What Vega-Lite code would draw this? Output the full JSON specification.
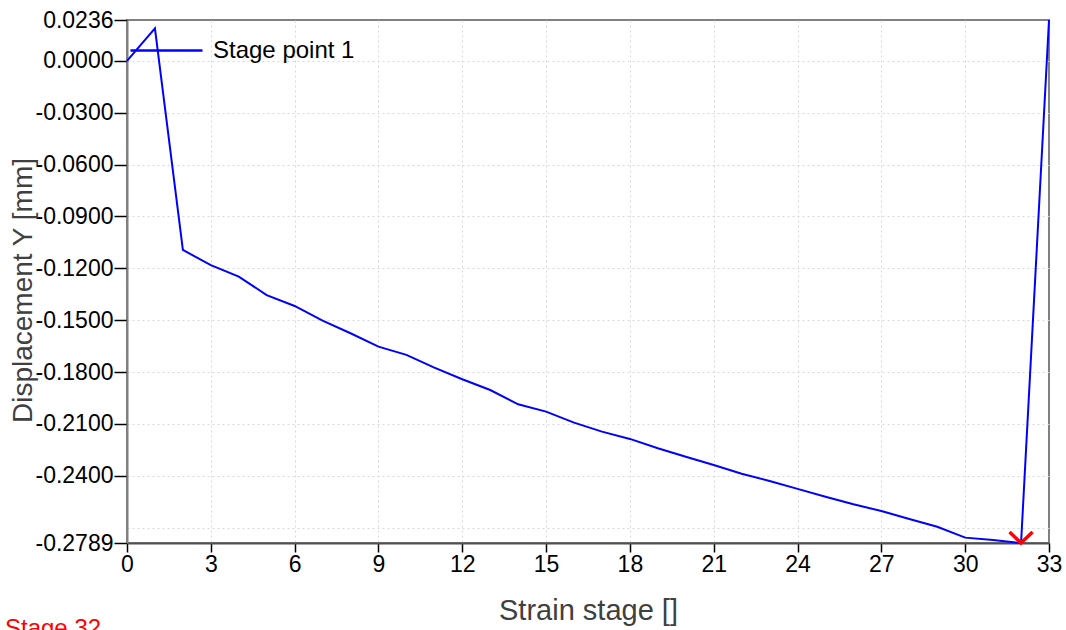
{
  "$schema": "https://vega.github.io/schema/vega-lite/v6.json",
  "width": 922,
  "height": 523,
  "autosize": "none",
  "padding": {"left": 127, "top": 20, "right": 17, "bottom": 87},
  "background": "white",
  "config": {
    "font": "Liberation Sans",
    "view": {"stroke": "#808080", "strokeWidth": 2}
  },
  "title": {
    "text": "Stage 32",
    "orient": "bottom",
    "anchor": "start",
    "frame": "group",
    "color": "#ff0000",
    "fontSize": 24,
    "fontWeight": "normal",
    "font": "Liberation Sans",
    "dx": -122,
    "offset": -8
  },
  "datasets": {
    "curve": [
      {"stage": 0, "dy": 0.0, "series": "Stage point 1"},
      {"stage": 1, "dy": 0.0188, "series": "Stage point 1"},
      {"stage": 2, "dy": -0.1094, "series": "Stage point 1"},
      {"stage": 3, "dy": -0.1182, "series": "Stage point 1"},
      {"stage": 4, "dy": -0.1248, "series": "Stage point 1"},
      {"stage": 5, "dy": -0.1355, "series": "Stage point 1"},
      {"stage": 6, "dy": -0.1418, "series": "Stage point 1"},
      {"stage": 7, "dy": -0.1503, "series": "Stage point 1"},
      {"stage": 8, "dy": -0.1576, "series": "Stage point 1"},
      {"stage": 9, "dy": -0.1653, "series": "Stage point 1"},
      {"stage": 10, "dy": -0.1701, "series": "Stage point 1"},
      {"stage": 11, "dy": -0.1775, "series": "Stage point 1"},
      {"stage": 12, "dy": -0.1842, "series": "Stage point 1"},
      {"stage": 13, "dy": -0.1904, "series": "Stage point 1"},
      {"stage": 14, "dy": -0.1987, "series": "Stage point 1"},
      {"stage": 15, "dy": -0.2029, "series": "Stage point 1"},
      {"stage": 16, "dy": -0.2093, "series": "Stage point 1"},
      {"stage": 17, "dy": -0.2145, "series": "Stage point 1"},
      {"stage": 18, "dy": -0.2187, "series": "Stage point 1"},
      {"stage": 19, "dy": -0.2241, "series": "Stage point 1"},
      {"stage": 20, "dy": -0.2290, "series": "Stage point 1"},
      {"stage": 21, "dy": -0.2338, "series": "Stage point 1"},
      {"stage": 22, "dy": -0.2388, "series": "Stage point 1"},
      {"stage": 23, "dy": -0.2430, "series": "Stage point 1"},
      {"stage": 24, "dy": -0.2476, "series": "Stage point 1"},
      {"stage": 25, "dy": -0.2521, "series": "Stage point 1"},
      {"stage": 26, "dy": -0.2565, "series": "Stage point 1"},
      {"stage": 27, "dy": -0.2604, "series": "Stage point 1"},
      {"stage": 28, "dy": -0.2650, "series": "Stage point 1"},
      {"stage": 29, "dy": -0.2695, "series": "Stage point 1"},
      {"stage": 30, "dy": -0.2758, "series": "Stage point 1"},
      {"stage": 31, "dy": -0.2772, "series": "Stage point 1"},
      {"stage": 32, "dy": -0.2789, "series": "Stage point 1"},
      {"stage": 33, "dy": 0.0236, "series": "Stage point 1"}
    ],
    "marker": [
      {"stage": 32, "dy": -0.2789}
    ]
  },
  "layer": [
    {
      "data": {"name": "curve"},
      "mark": {"type": "line", "strokeWidth": 2, "clip": false},
      "encoding": {
        "x": {
          "field": "stage",
          "type": "quantitative",
          "scale": {"domain": [0, 33], "nice": false, "zero": false},
          "axis": {
            "values": [0, 3, 6, 9, 12, 15, 18, 21, 24, 27, 30, 33],
            "format": "d",
            "title": "Strain stage []",
            "titleFontSize": 29,
            "titleFontWeight": "normal",
            "titleColor": "#404040",
            "titlePadding": 20,
            "labelFontSize": 23,
            "labelColor": "#000000",
            "labelPadding": 1,
            "labelFlush": false,
            "labelOverlap": false,
            "tickSize": 9,
            "tickColor": "#000000",
            "tickWidth": 1.5,
            "domainColor": "#505050",
            "domainWidth": 2,
            "grid": true,
            "gridColor": "#d8d8d8",
            "gridDash": [2, 3],
            "gridWidth": 1,
            "gridOpacity": {"condition": {"test": "datum.value == 0 || datum.value == 33", "value": 0}, "value": 1}
          }
        },
        "y": {
          "field": "dy",
          "type": "quantitative",
          "scale": {"domain": [-0.2789, 0.0236], "nice": false, "zero": false},
          "axis": {
            "values": [0.0236, 0, -0.03, -0.06, -0.09, -0.12, -0.15, -0.18, -0.21, -0.24, -0.27, -0.2789],
            "labelExpr": "abs(datum.value + 0.27) < 1e-9 ? '' : (datum.value < 0 ? '-' + format(-datum.value, '.4f') : format(datum.value, '.4f'))",
            "title": "Displacement Y [mm]",
            "titleFontSize": 28,
            "titleFontWeight": "normal",
            "titleColor": "#404040",
            "titleX": -104,
            "titleY": 270,
            "titleBaseline": "middle",
            "labelFontSize": 23,
            "labelColor": "#000000",
            "labelPadding": 1,
            "labelFlush": false,
            "labelOverlap": false,
            "tickSize": 13,
            "tickColor": "#000000",
            "tickWidth": 1.5,
            "tickOpacity": {"condition": {"test": "abs(datum.value + 0.27) < 1e-9", "value": 0}, "value": 1},
            "domainColor": "#808080",
            "domainWidth": 2,
            "grid": true,
            "gridColor": "#d8d8d8",
            "gridDash": [2, 3],
            "gridWidth": 1,
            "gridOpacity": {"condition": {"test": "abs(datum.value - 0.0236) < 1e-9 || abs(datum.value + 0.2789) < 1e-9", "value": 0}, "value": 1}
          }
        },
        "color": {
          "field": "series",
          "type": "nominal",
          "scale": {"range": ["#0000ff"]},
          "legend": {
            "title": null,
            "orient": "none",
            "legendX": 2,
            "legendY": -7,
            "symbolType": "stroke",
            "symbolSize": 5184,
            "symbolStrokeWidth": 2.5,
            "labelFontSize": 24,
            "labelColor": "#000000",
            "labelOffset": 9,
            "labelFont": "Liberation Sans"
          }
        }
      }
    },
    {
      "data": {"name": "marker"},
      "mark": {
        "type": "point",
        "shape": "M-1,-0.96L0,0L1,-0.96",
        "size": 529,
        "filled": false,
        "stroke": "#ff0000",
        "strokeWidth": 3.5,
        "opacity": 1,
        "clip": false
      },
      "encoding": {
        "x": {"field": "stage", "type": "quantitative"},
        "y": {"field": "dy", "type": "quantitative"}
      }
    }
  ]
}
